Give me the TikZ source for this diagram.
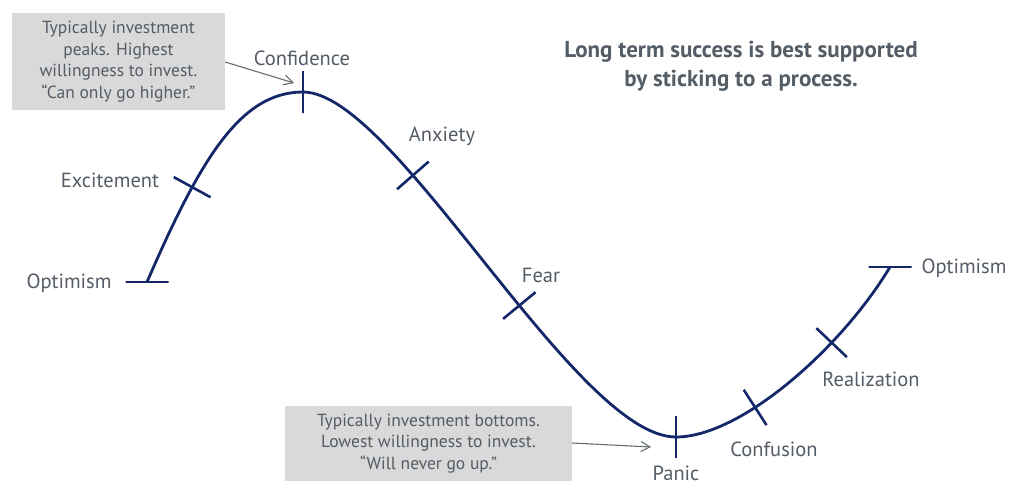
\documentclass[tikz,border=0pt]{standalone}
\usepackage{fontspec}
\setmainfont{PT Sans}
\usetikzlibrary{arrows.meta}
\definecolor{curvecol}{RGB}{20,40,105}
\definecolor{txtcol}{RGB}{84,92,102}
\definecolor{boxcol}{RGB}{217,217,217}
\definecolor{arrcol}{RGB}{100,110,115}
\tikzset{
  curve/.style={draw=curvecol, line width=2.8pt},
  tickmark/.style={draw=curvecol, line width=2.6pt, minimum height=42pt, minimum width=0pt, inner sep=0pt, outer sep=0pt, shape=rectangle},
  htick/.style={draw=curvecol, line width=2.6pt, minimum width=43pt, minimum height=0pt, inner sep=0pt, outer sep=0pt, shape=rectangle},
  lbl/.style={text=txtcol, font=\fontsize{20.5}{24}\selectfont, inner sep=0pt},
  callout/.style={fill=boxcol, text=txtcol, font=\fontsize{17.5}{21.5}\selectfont, align=center, inner sep=0pt},
  callarrow/.style={draw=arrcol, line width=1.1pt, -{Straight Barb[length=9pt,width=10pt,line width=1.1pt]}},
  title/.style={text=txtcol, font=\bfseries\fontsize{23}{29}\selectfont, align=center, inner sep=0pt}
}
\begin{document}
\begin{tikzpicture}[x=1pt,y=-1pt]
\useasboundingbox (0,0) rectangle (1024,496);
% curve with ticks
\path[curve] (147,282) coordinate (s)
  .. controls (200,160) and (240,92) .. node[pos=0.3, sloped, tickmark] (texc) {} (303,92) coordinate (peak)
  .. controls (395,92) and (575,437) .. node[pos=0.32, sloped, tickmark] (tanx) {} node[pos=0.58, sloped, tickmark] (tfear) {} (676,437) coordinate (bottom)
  .. controls (740,437) and (840,350) .. node[pos=0.36, sloped, tickmark] (tconf) {} node[pos=0.69, sloped, tickmark] (treal) {} (890,267) coordinate (e);
\node[htick] (tstart) at (s) {};
\node[htick] (tend) at (e) {};
\node[tickmark] (tpeak) at (peak) {};
\node[tickmark] (tpanic) at (bottom) {};
% labels
\node[lbl] (l1) at (69,283) {Optimism};
\node[lbl] (l2) at (110,180) {Excitement};
\node[lbl] (l3) at (302,58) {Confidence};
\node[lbl] (l4) at (442,136) {Anxiety};
\node[lbl] (l5) at (541,275) {Fear};
\node[lbl] (l6) at (676,473) {Panic};
\node[lbl] (l7) at (774,449) {Confusion};
\node[lbl] (l8) at (871,379) {Realization};
\node[lbl] (l9) at (964,268) {Optimism};
% title
\node[title] (t) at (741,66) {Long term success is best supported\\by sticking to a process.};
% callouts
\node[callout, minimum width=213pt, minimum height=97pt] (c1) at (118.5,61.5) {Typically investment\\peaks. Highest\\willingness to invest.\\``Can only go higher.''};
\node[callout, minimum width=287pt, minimum height=75pt] (c2) at (428.5,443.5) {Typically investment bottoms.\\Lowest willingness to invest.\\``Will never go up.''};
\coordinate (a1) at (294,83);
\coordinate (a2) at (651,447);
\draw[callarrow] (c1.east |- 0,62) -- (a1);
\draw[callarrow] (c2.east |- 0,443) -- (a2);
\end{tikzpicture}
\end{document}
